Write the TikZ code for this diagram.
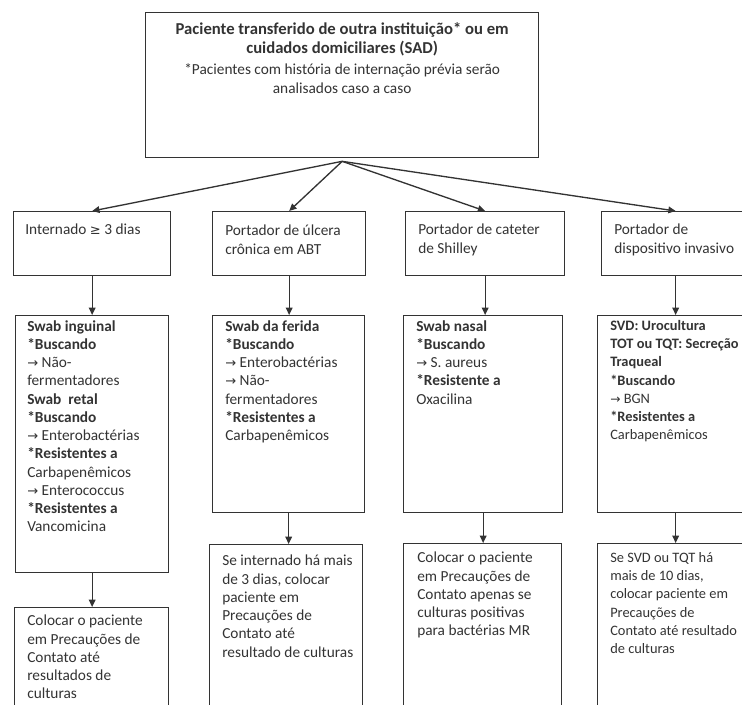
\documentclass[tikz,border=0pt]{standalone}
\usepackage{fontspec}
\setmainfont{Carlito}
\newfontfamily\symf[Scale=0.85]{DejaVu Sans}
\usetikzlibrary{arrows.meta}
\definecolor{linec}{HTML}{333333}
\definecolor{txtc}{HTML}{333333}
\newcommand{\ar}{{\symf →}}
\tikzset{
  boxst/.style={draw=linec, line width=1pt, anchor=north west, inner sep=0pt, fill=none},
  txt/.style={anchor=north west, inner sep=0pt, align=left, text=txtc,
    font=\fontsize{11.5}{13.7}\selectfont},
  txtn/.style={txt, font=\fontsize{10.8}{13.7}\selectfont},
  conn/.style={draw=linec, line width=1pt, -{Triangle[length=5.5pt,width=5pt]}}
}
\begin{document}
\begin{tikzpicture}[x=0.75pt,y=-0.75pt]
\useasboundingbox (0,0) rectangle (742,704);
\clip (0,0) rectangle (742,704);
% top box
\node[boxst, minimum width=393*0.75pt, minimum height=145*0.75pt] (top) at (145,12) {};
\node[anchor=north, inner sep=0pt, align=center, text=txtc,
  font=\fontsize{12.5}{14.5}\selectfont] (ttop) at ([yshift=-10*0.75pt]top.north)
  {\bfseries Paciente transferido de outra instituição* ou em\\
   \bfseries cuidados domiciliares (SAD)\\[1pt]
   {\fontsize{11.5}{14.5}\selectfont *Pacientes com história de internação prévia serão}\\
   {\fontsize{11.5}{14.5}\selectfont analisados caso a caso}};
% row 1
\node[boxst, minimum width=157*0.75pt, minimum height=64*0.75pt] (a1) at (13,211) {};
\node[boxst, minimum width=153*0.75pt, minimum height=64*0.75pt] (a2) at (212,211) {};
\node[boxst, minimum width=159*0.75pt, minimum height=64*0.75pt] (a3) at (405,211) {};
\node[boxst, minimum width=148*0.75pt, minimum height=64*0.75pt] (a4) at (601,211) {};
% row 2
\node[boxst, minimum width=153*0.75pt, minimum height=257*0.75pt] (b1) at (15,315) {};
\node[boxst, minimum width=152*0.75pt, minimum height=197*0.75pt] (b2) at (212,315) {};
\node[boxst, minimum width=159*0.75pt, minimum height=197*0.75pt] (b3) at (403,315) {};
\node[boxst, minimum width=156*0.75pt, minimum height=197*0.75pt] (b4) at (597,315) {};
% row 3
\node[boxst, minimum width=154*0.75pt, minimum height=120*0.75pt] (c1) at (14,607) {};
\node[boxst, minimum width=153*0.75pt, minimum height=180*0.75pt] (c2) at (209,544) {};
\node[boxst, minimum width=158*0.75pt, minimum height=180*0.75pt] (c3) at (403,543) {};
\node[boxst, minimum width=156*0.75pt, minimum height=180*0.75pt] (c4) at (597,543) {};
% texts row 1
\node[txt] (ta1) at ([shift={(12,13)}]a1.north west) {Internado {\symf ≥} 3 dias};
\node[txt] (ta2) at ([shift={(13,14)}]a2.north west) {Portador de úlcera\\crônica em ABT};
\node[txt] (ta3) at ([shift={(13,13)}]a3.north west) {Portador de cateter\\de Shilley};
\node[txt] (ta4) at ([shift={(13,13)}]a4.north west) {Portador de\\dispositivo invasivo};
% texts row 2
\node[txt] (tb1) at ([shift={(12,5)}]b1.north west)
  {\textbf{Swab inguinal}\\\textbf{*Buscando}\\\ar{} Não-\\fermentadores\\
   \textbf{Swab\ \ retal}\\\textbf{*Buscando}\\\ar{} Enterobactérias\\
   \textbf{*Resistentes a}\\Carbapenêmicos\\\ar{} Enterococcus\\
   \textbf{*Resistentes a}\\Vancomicina};
\node[txt] (tb2) at ([shift={(13,5)}]b2.north west)
  {\textbf{Swab da ferida}\\\textbf{*Buscando}\\\ar{} Enterobactérias\\\ar{} Não-\\
   fermentadores\\\textbf{*Resistentes a}\\Carbapenêmicos};
\node[txt] (tb3) at ([shift={(13,5)}]b3.north west)
  {\textbf{Swab nasal}\\\textbf{*Buscando}\\\ar{} S. aureus\\\textbf{*Resistente a}\\Oxacilina};
\node[txtn] (tb4) at ([shift={(13,5)}]b4.north west)
  {\textbf{SVD: Urocultura}\\\textbf{TOT ou TQT: Secreção}\\\textbf{Traqueal}\\
   \textbf{*Buscando}\\\ar{} BGN\\\textbf{*Resistentes a}\\Carbapenêmicos};
% texts row 3
\node[txt] (tc1) at ([shift={(13,8)}]c1.north west)
  {Colocar o paciente\\em Precauções de\\Contato até\\resultados de\\culturas};
\node[txt] (tc2) at ([shift={(13,11)}]c2.north west)
  {Se internado há mais\\de 3 dias, colocar\\paciente em\\Precauções de\\Contato até\\resultado de culturas};
\node[txt] (tc3) at ([shift={(14,9)}]c3.north west)
  {Colocar o paciente\\em Precauções de\\Contato apenas se\\culturas positivas\\para bactérias MR};
\node[txtn] (tc4) at ([shift={(13,9)}]c4.north west)
  {Se SVD ou TQT há\\mais de 10 dias,\\colocar paciente em\\Precauções de\\Contato até resultado\\de culturas};
% connectors
\draw[conn] ([yshift=-3*0.75pt]top.south) -- (a1.north);
\draw[conn] ([yshift=-3*0.75pt]top.south) -- (a2.north);
\draw[conn] ([yshift=-3*0.75pt]top.south) -- (a3.north);
\draw[conn] ([yshift=-3*0.75pt]top.south) -- (a4.north);
\draw[conn] (a1.south) -- (a1.south |- b1.north);
\draw[conn] (a2.south) -- (a2.south |- b2.north);
\draw[conn] (a3.south) -- (a3.south |- b3.north);
\draw[conn] (a4.south) -- (a4.south |- b4.north);
\draw[conn] (b1.south) -- (b1.south |- c1.north);
\draw[conn] (b2.south) -- (b2.south |- c2.north);
\draw[conn] (b3.south) -- (b3.south |- c3.north);
\draw[conn] (b4.south) -- (b4.south |- c4.north);
\end{tikzpicture}
\end{document}
